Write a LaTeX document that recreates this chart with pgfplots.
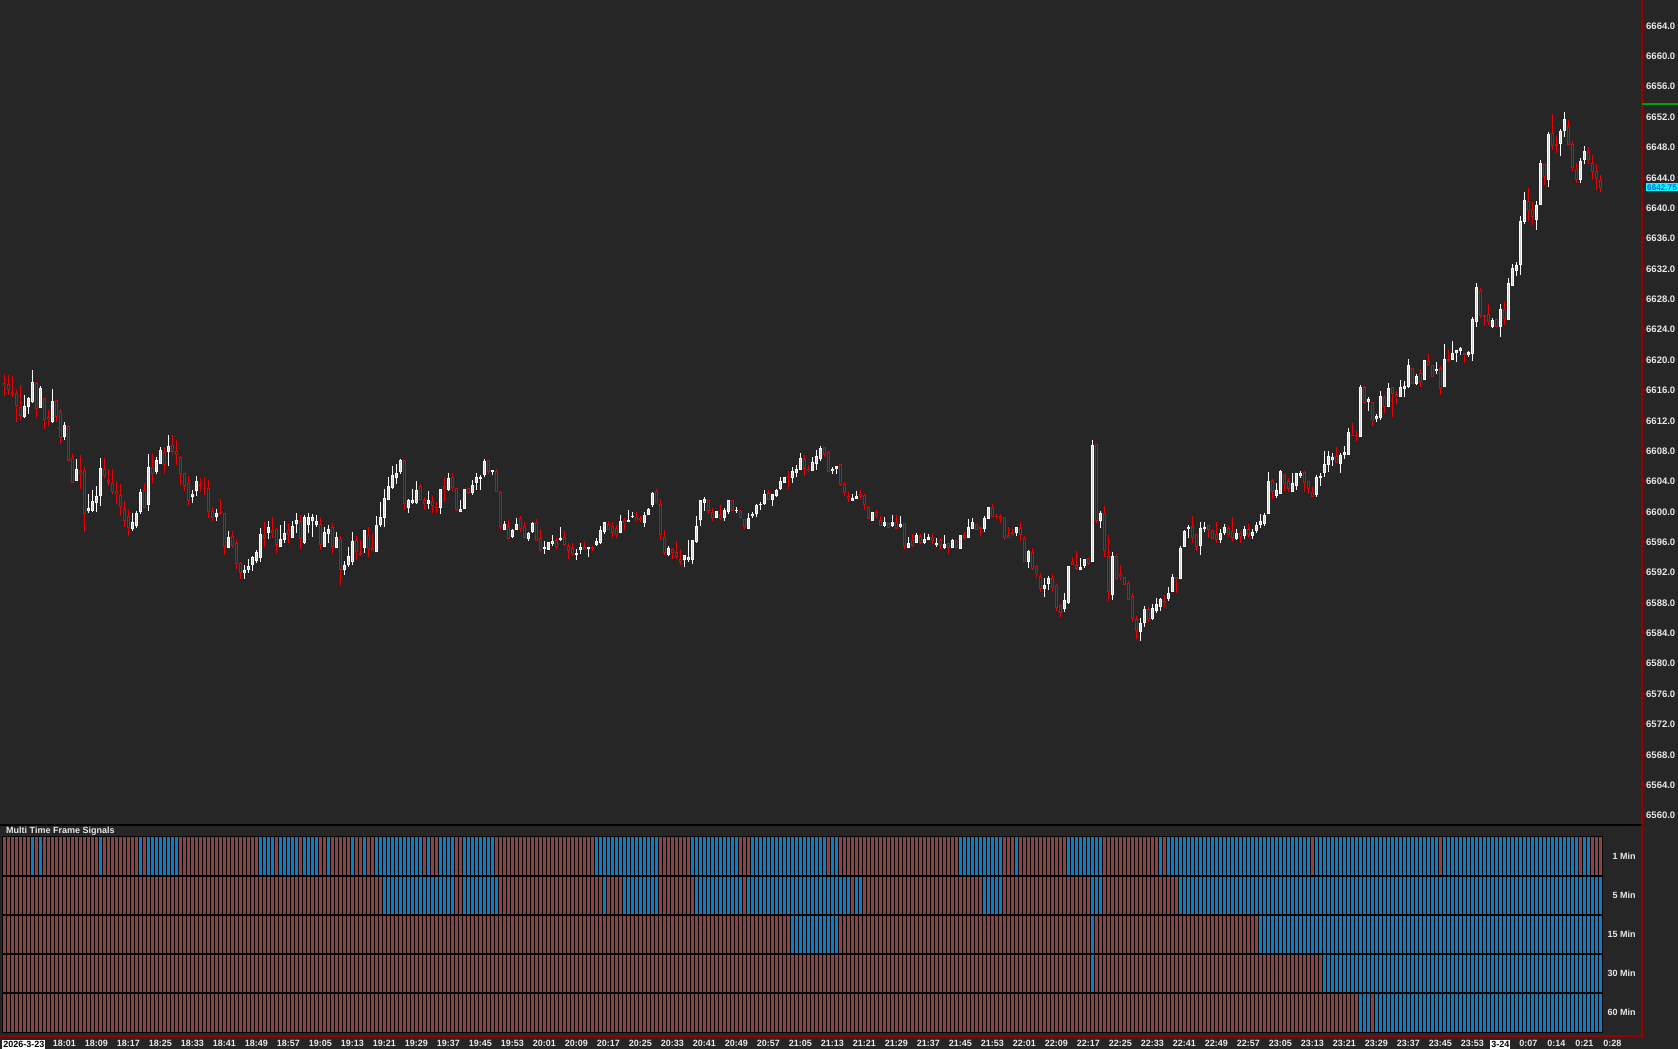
\documentclass[border=0pt]{standalone}
\usepackage{pgfplots}
\usepackage{pgfplotstable}
\usepackage{fontspec}
\setmainfont{Liberation Sans}
\pgfplotsset{compat=1.18}

\definecolor{bg}{HTML}{262626}
\definecolor{cred}{HTML}{EA0000}
\definecolor{cwhite}{HTML}{FFFFFF}
\definecolor{cfill}{HTML}{D4D4D4}
\definecolor{axisred}{HTML}{9A0000}
\definecolor{sigred}{HTML}{8C4343}
\definecolor{sigblue}{HTML}{0A7EC4}
\definecolor{lbl}{HTML}{E8E8EE}
\definecolor{pgreen}{HTML}{00A000}
\definecolor{pcyan}{HTML}{00FFFF}
\definecolor{ptext}{HTML}{1E5AE6}

\newcommand\axfont{\bfseries\fontsize{9.5}{11}\selectfont}
\newcommand\smfont{\bfseries\fontsize{9}{10}\selectfont}
\setlength{\fboxsep}{1pt}

% one-minute bars: index, open, high, low, close
\pgfplotstableread{
i o h l c
0 6617.1 6618.2 6615.2 6616.8
1 6616.8 6618.0 6615.4 6616.0
2 6615.8 6618.0 6615.2 6615.5
3 6615.8 6616.1 6611.9 6614.0
4 6613.8 6616.8 6612.2 6612.7
5 6612.5 6615.5 6612.4 6614.0
6 6613.8 6615.3 6613.1 6615.1
7 6614.5 6618.8 6614.4 6617.1
8 6617.1 6617.1 6612.4 6613.7
9 6613.7 6616.6 6613.7 6616.3
10 6615.2 6615.2 6611.1 6612.3
11 6612.6 6613.5 6611.4 6612.3
12 6611.8 6616.3 6611.8 6614.6
13 6614.8 6614.8 6611.9 6612.5
14 6613.3 6613.7 6609.1 6609.8
15 6610.0 6611.8 6609.4 6611.6
16 6611.3 6611.3 6606.8 6606.8
17 6607.1 6607.7 6603.8 6603.8
18 6604.2 6607.1 6604.1 6605.8
19 6605.5 6607.6 6603.1 6605.2
20 6605.5 6606.0 6597.4 6599.8
21 6600.2 6602.4 6599.9 6600.5
22 6600.2 6603.0 6600.1 6601.5
23 6601.2 6603.5 6600.1 6602.1
24 6602.0 6607.1 6600.8 6605.7
25 6605.7 6607.3 6604.6 6604.8
26 6604.3 6605.7 6603.5 6604.0
27 6603.8 6605.7 6602.4 6602.7
28 6602.7 6604.1 6601.1 6602.3
29 6602.3 6603.8 6599.6 6600.7
30 6600.7 6601.5 6598.0 6599.0
31 6599.5 6600.3 6596.9 6597.9
32 6597.8 6600.0 6597.6 6598.8
33 6598.2 6600.2 6597.9 6599.8
34 6600.0 6603.2 6599.9 6602.6
35 6603.0 6603.8 6600.6 6600.7
36 6601.0 6607.6 6600.1 6606.0
37 6606.0 6607.7 6603.8 6605.1
38 6605.2 6607.3 6605.1 6606.8
39 6606.4 6608.5 6606.3 6608.3
40 6608.0 6608.6 6605.1 6606.3
41 6608.0 6610.2 6606.1 6608.8
42 6608.8 6610.2 6607.7 6607.9
43 6608.0 6609.6 6606.3 6607.5
44 6607.3 6607.3 6603.5 6605.1
45 6605.2 6605.2 6602.8 6603.5
46 6603.8 6604.8 6601.0 6601.5
47 6602.0 6603.0 6601.3 6602.4
48 6602.7 6604.8 6602.1 6604.1
49 6603.8 6604.6 6602.7 6603.5
50 6603.2 6604.6 6602.2 6603.0
51 6603.2 6604.3 6599.4 6600.0
52 6600.2 6600.7 6598.8 6599.3
53 6599.3 6600.5 6598.9 6599.9
54 6600.0 6601.8 6599.7 6599.8
55 6599.8 6599.8 6594.4 6595.4
56 6595.4 6597.6 6595.4 6596.8
57 6597.0 6597.6 6595.4 6595.7
58 6596.0 6596.3 6592.5 6593.2
59 6593.2 6593.5 6591.3 6592.0
60 6592.0 6593.0 6591.2 6592.4
61 6592.4 6593.8 6592.0 6593.0
62 6593.0 6594.2 6592.3 6594.1
63 6593.6 6595.0 6593.2 6594.7
64 6594.0 6598.0 6593.5 6597.1
65 6597.1 6598.6 6595.4 6596.7
66 6597.3 6598.8 6596.4 6598.0
67 6597.8 6599.3 6596.5 6597.3
68 6597.8 6598.0 6594.6 6595.7
69 6595.4 6598.3 6595.4 6596.5
70 6596.5 6598.8 6595.9 6597.4
71 6597.6 6598.4 6595.9 6597.0
72 6596.7 6598.8 6596.7 6598.3
73 6598.5 6599.9 6597.2 6599.0
74 6598.8 6599.6 6595.1 6596.5
75 6596.0 6599.7 6595.9 6599.4
76 6598.4 6599.9 6597.2 6599.4
77 6598.9 6599.9 6596.8 6599.4
78 6598.4 6599.6 6598.1 6598.9
79 6598.5 6599.4 6595.1 6595.7
80 6595.4 6598.1 6595.4 6597.4
81 6597.2 6598.3 6596.0 6597.8
82 6598.0 6598.6 6594.6 6595.4
83 6595.4 6597.4 6595.4 6596.8
84 6596.5 6596.8 6590.2 6592.5
85 6592.5 6593.6 6591.8 6593.2
86 6593.2 6595.5 6592.9 6594.3
87 6593.5 6597.4 6593.0 6596.3
88 6596.3 6596.9 6593.7 6594.8
89 6594.6 6596.5 6594.4 6594.5
90 6595.2 6597.6 6594.7 6597.6
91 6597.1 6598.1 6594.1 6595.2
92 6595.2 6597.1 6594.8 6594.8
93 6594.8 6599.6 6594.8 6598.3
94 6598.4 6601.4 6598.1 6599.4
95 6599.2 6603.1 6598.1 6601.8
96 6601.7 6604.6 6601.6 6603.5
97 6603.2 6606.1 6603.1 6604.9
98 6604.5 6606.5 6603.9 6605.1
99 6605.2 6607.1 6605.1 6606.8
100 6606.8 6606.8 6600.3 6601.0
101 6600.5 6601.8 6599.9 6601.6
102 6601.2 6603.0 6601.1 6601.6
103 6601.2 6604.1 6601.1 6603.0
104 6603.5 6603.8 6601.6 6601.7
105 6601.6 6602.0 6600.3 6601.0
106 6601.0 6602.8 6600.4 6601.6
107 6601.6 6602.1 6599.9 6600.9
108 6600.8 6601.4 6600.0 6600.7
109 6600.5 6603.2 6599.9 6603.0
110 6603.5 6604.6 6601.3 6603.2
111 6603.0 6605.2 6602.8 6604.6
112 6604.6 6605.2 6602.8 6603.2
113 6603.2 6603.2 6600.2 6600.3
114 6600.1 6601.6 6600.0 6600.5
115 6600.5 6603.2 6600.5 6603.2
116 6603.2 6603.2 6602.4 6602.5
117 6602.5 6604.3 6602.4 6603.5
118 6603.8 6605.2 6602.9 6604.6
119 6604.4 6604.9 6602.9 6604.6
120 6604.9 6607.1 6604.7 6606.8
121 6606.8 6606.8 6605.1 6605.2
122 6605.3 6605.7 6605.0 6605.5
123 6605.5 6605.7 6602.7 6602.7
124 6602.7 6602.7 6597.7 6598.1
125 6597.8 6598.9 6597.7 6598.5
126 6598.3 6599.0 6596.5 6596.5
127 6596.7 6597.8 6596.6 6597.6
128 6597.8 6599.3 6597.6 6598.5
129 6599.3 6599.4 6597.4 6597.8
130 6598.3 6598.7 6596.6 6596.7
131 6596.5 6597.5 6596.3 6597.3
132 6597.3 6598.6 6597.2 6598.5
133 6598.8 6599.1 6596.1 6596.3
134 6596.7 6597.8 6594.8 6595.1
135 6595.1 6596.2 6594.6 6595.4
136 6595.1 6596.1 6595.0 6596.1
137 6595.9 6597.1 6595.6 6596.3
138 6596.3 6596.5 6595.1 6595.4
139 6596.3 6598.1 6596.3 6596.6
140 6596.8 6597.6 6595.6 6595.7
141 6595.5 6595.9 6593.8 6594.8
142 6595.4 6595.9 6594.2 6594.4
143 6594.5 6595.1 6593.7 6594.6
144 6595.1 6595.9 6594.5 6595.5
145 6595.5 6596.1 6595.0 6595.1
146 6595.4 6595.5 6594.1 6595.5
147 6595.5 6595.5 6594.8 6595.3
148 6595.7 6596.6 6595.6 6596.3
149 6595.9 6598.3 6595.9 6597.6
150 6597.5 6598.8 6597.2 6598.8
151 6598.5 6598.9 6597.7 6597.8
152 6598.3 6598.8 6596.6 6597.3
153 6597.9 6598.4 6596.6 6597.0
154 6597.3 6599.6 6597.2 6598.8
155 6599.0 6599.2 6597.7 6598.6
156 6598.8 6600.3 6598.7 6599.1
157 6599.4 6600.0 6599.3 6599.5
158 6599.4 6600.0 6598.9 6599.0
159 6599.3 6599.4 6598.6 6599.0
160 6598.7 6600.1 6598.1 6599.8
161 6599.8 6600.6 6599.7 6600.5
162 6601.0 6602.7 6600.7 6602.6
163 6602.8 6603.0 6601.1 6601.2
164 6601.0 6601.7 6596.4 6597.0
165 6596.8 6597.8 6594.5 6594.7
166 6594.5 6595.6 6594.3 6595.4
167 6595.1 6595.4 6593.9 6594.6
168 6594.8 6596.3 6593.9 6594.1
169 6593.9 6595.1 6593.0 6593.6
170 6593.7 6594.4 6592.8 6594.3
171 6593.7 6596.3 6593.4 6594.1
172 6593.7 6596.3 6593.2 6596.3
173 6596.1 6599.6 6596.1 6598.3
174 6599.0 6601.7 6598.3 6601.6
175 6601.3 6601.9 6600.1 6601.8
176 6601.6 6601.6 6599.9 6600.1
177 6600.1 6600.5 6598.8 6599.3
178 6599.2 6600.1 6599.2 6600.1
179 6599.8 6601.0 6599.0 6599.2
180 6599.3 6600.6 6598.9 6600.3
181 6600.0 6601.6 6599.9 6601.6
182 6601.6 6601.6 6600.1 6600.2
183 6600.1 6600.6 6599.8 6600.3
184 6600.2 6600.3 6599.2 6599.3
185 6599.1 6599.2 6597.8 6598.1
186 6597.9 6599.9 6597.9 6599.4
187 6599.5 6600.0 6599.3 6599.8
188 6599.8 6601.1 6599.4 6601.0
189 6600.9 6601.3 6600.3 6601.0
190 6601.1 6603.0 6601.0 6602.5
191 6602.6 6602.9 6601.6 6601.7
192 6601.6 6602.5 6600.9 6602.4
193 6602.2 6603.1 6602.0 6603.0
194 6603.0 6604.6 6602.9 6604.1
195 6603.8 6604.7 6603.8 6604.6
196 6604.9 6605.4 6603.1 6604.6
197 6604.5 6605.9 6603.8 6605.4
198 6605.2 6606.2 6604.7 6605.7
199 6605.6 6607.8 6605.5 6607.1
200 6607.1 6607.6 6604.9 6605.7
201 6605.7 6606.3 6605.3 6605.4
202 6605.4 6607.3 6605.4 6606.6
203 6606.3 6608.1 6605.5 6607.4
204 6607.0 6608.8 6606.8 6608.5
205 6608.5 6608.5 6607.4 6607.5
206 6608.0 6608.0 6605.2 6605.4
207 6605.4 6606.1 6605.2 6605.7
208 6605.7 6606.1 6605.2 6606.1
209 6606.3 6606.3 6603.5 6603.6
210 6603.8 6604.0 6602.1 6602.6
211 6602.3 6602.7 6601.4 6602.0
212 6601.5 6602.4 6601.5 6601.9
213 6601.7 6602.8 6601.7 6602.1
214 6602.4 6603.0 6601.9 6602.0
215 6602.3 6602.3 6600.3 6601.0
216 6600.8 6600.8 6599.0 6599.2
217 6599.0 6600.1 6599.0 6600.1
218 6600.1 6600.3 6599.3 6599.5
219 6599.0 6599.6 6598.2 6598.2
220 6598.2 6599.4 6598.1 6598.8
221 6598.6 6598.7 6598.0 6598.0
222 6598.2 6599.6 6598.1 6598.8
223 6598.8 6599.6 6597.9 6597.9
224 6598.2 6599.6 6598.0 6598.5
225 6598.5 6598.5 6595.2 6595.5
226 6595.4 6596.8 6595.4 6596.0
227 6596.3 6597.2 6595.5 6595.6
228 6596.0 6597.3 6596.0 6597.0
229 6596.9 6597.1 6595.8 6596.0
230 6596.0 6597.3 6595.8 6596.5
231 6596.4 6597.1 6596.4 6596.9
232 6596.8 6597.3 6595.9 6596.2
233 6595.7 6596.8 6595.6 6596.0
234 6596.3 6596.5 6595.1 6595.6
235 6595.3 6597.1 6595.3 6595.8
236 6596.0 6596.0 6594.6 6595.3
237 6595.3 6596.5 6595.3 6596.3
238 6596.3 6596.3 6595.3 6595.3
239 6595.3 6597.1 6595.3 6597.1
240 6597.1 6597.4 6596.3 6596.7
241 6596.7 6599.1 6596.7 6598.1
242 6597.9 6599.3 6597.9 6598.8
243 6598.5 6598.5 6597.7 6597.8
244 6598.0 6598.0 6596.9 6597.8
245 6597.9 6599.4 6597.4 6599.3
246 6599.2 6600.8 6599.2 6600.8
247 6600.8 6601.0 6599.4 6599.5
248 6599.5 6599.8 6599.1 6599.4
249 6599.6 6599.8 6598.6 6599.2
250 6599.3 6599.3 6596.4 6596.5
251 6597.1 6598.0 6596.7 6596.7
252 6597.3 6597.9 6596.9 6597.0
253 6597.2 6598.0 6596.9 6598.0
254 6598.0 6598.8 6596.3 6597.0
255 6596.6 6596.8 6593.5 6593.5
256 6593.5 6595.1 6592.7 6594.9
257 6594.9 6595.3 6592.5 6592.6
258 6592.9 6593.0 6591.3 6591.8
259 6591.6 6592.1 6589.6 6590.0
260 6590.0 6591.3 6588.8 6590.5
261 6590.5 6591.6 6589.8 6591.3
262 6591.3 6591.8 6589.4 6590.0
263 6590.5 6590.5 6587.0 6587.5
264 6587.8 6587.9 6586.3 6586.8
265 6587.2 6589.3 6586.8 6588.5
266 6588.1 6593.0 6588.0 6593.0
267 6593.5 6594.0 6593.0 6593.1
268 6593.0 6594.9 6592.5 6592.5
269 6592.5 6594.0 6592.5 6592.9
270 6592.9 6593.9 6592.7 6593.8
271 6594.0 6594.0 6593.1 6593.2
272 6593.5 6609.6 6593.5 6609.0
273 6609.0 6609.0 6598.6 6598.9
274 6598.9 6600.1 6597.9 6599.9
275 6599.8 6600.8 6594.1 6594.8
276 6594.3 6596.9 6588.3 6589.5
277 6589.2 6594.9 6588.6 6594.3
278 6594.3 6594.5 6591.1 6591.2
279 6591.8 6593.0 6591.0 6591.5
280 6591.5 6591.5 6590.5 6590.5
281 6590.7 6591.0 6588.5 6588.5
282 6589.0 6589.3 6585.5 6586.0
283 6586.0 6586.3 6583.3 6584.3
284 6584.3 6586.0 6583.0 6585.5
285 6585.5 6587.5 6584.8 6587.3
286 6587.3 6587.5 6585.5 6586.0
287 6586.0 6588.0 6585.8 6587.5
288 6587.1 6588.8 6586.8 6587.9
289 6587.5 6588.8 6587.0 6588.5
290 6588.3 6589.1 6587.5 6588.0
291 6588.5 6590.2 6588.4 6589.3
292 6589.5 6591.8 6589.4 6591.5
293 6591.5 6591.5 6589.4 6591.2
294 6591.2 6595.5 6591.2 6595.4
295 6595.4 6597.7 6595.4 6597.5
296 6597.8 6598.3 6596.6 6598.1
297 6598.3 6599.6 6596.1 6596.7
298 6597.1 6597.1 6594.9 6595.4
299 6595.6 6598.8 6594.4 6598.0
300 6597.8 6598.8 6597.4 6598.1
301 6598.3 6598.3 6596.6 6597.6
302 6597.6 6597.6 6596.4 6596.4
303 6597.1 6598.8 6596.0 6596.4
304 6596.4 6597.8 6596.0 6597.3
305 6597.3 6598.5 6597.0 6598.0
306 6598.0 6598.3 6596.8 6597.0
307 6597.5 6599.4 6596.2 6596.5
308 6596.5 6597.8 6596.3 6597.3
309 6597.3 6597.6 6596.0 6596.8
310 6596.8 6598.2 6596.5 6597.8
311 6597.8 6598.5 6596.8 6597.0
312 6597.0 6597.8 6596.5 6597.5
313 6597.5 6598.6 6597.2 6598.3
314 6598.3 6599.8 6598.0 6598.8
315 6598.5 6599.8 6598.2 6599.6
316 6599.8 6605.3 6599.7 6604.1
317 6604.3 6604.3 6601.6 6602.6
318 6602.2 6603.8 6601.9 6603.0
319 6602.5 6605.5 6602.4 6605.5
320 6605.1 6605.1 6602.8 6603.8
321 6604.1 6604.6 6602.7 6603.0
322 6602.7 6605.2 6602.7 6603.8
323 6603.5 6605.2 6603.0 6605.2
324 6604.8 6605.5 6604.6 6605.2
325 6605.2 6605.5 6602.7 6603.8
326 6604.1 6604.1 6602.4 6603.0
327 6602.7 6603.3 6602.0 6602.0
328 6602.2 6604.9 6602.1 6604.6
329 6604.6 6605.2 6603.5 6604.9
330 6605.1 6608.0 6604.6 6606.3
331 6606.2 6608.0 6605.3 6607.4
332 6607.0 6607.9 6606.1 6607.4
333 6607.4 6608.6 6606.5 6606.5
334 6606.3 6607.8 6605.2 6607.6
335 6607.6 6608.8 6607.1 6608.0
336 6607.6 6611.1 6607.6 6610.6
337 6610.2 6611.8 6610.1 6610.1
338 6610.2 6610.8 6609.4 6610.1
339 6610.0 6616.8 6609.9 6616.6
340 6616.6 6616.6 6614.3 6614.4
341 6614.5 6615.2 6613.3 6614.9
342 6614.6 6614.6 6611.4 6612.0
343 6612.3 6613.0 6611.9 6612.7
344 6612.3 6616.1 6612.3 6615.3
345 6615.2 6615.5 6613.1 6613.9
346 6613.9 6617.1 6613.9 6616.4
347 6616.6 6616.6 6612.7 6615.7
348 6615.5 6616.1 6614.4 6615.1
349 6615.2 6617.4 6615.2 6616.6
350 6616.2 6617.4 6615.3 6616.6
351 6616.5 6620.2 6616.4 6619.3
352 6619.0 6619.0 6616.8 6616.9
353 6617.0 6618.3 6616.8 6618.0
354 6618.3 6618.8 6616.4 6617.0
355 6617.5 6620.1 6617.4 6620.1
356 6619.9 6620.8 6619.3 6619.3
357 6619.3 6619.3 6617.7 6617.7
358 6618.5 6619.9 6618.3 6618.8
359 6619.0 6619.3 6615.5 6616.2
360 6616.5 6622.1 6616.5 6620.2
361 6620.2 6621.3 6619.7 6620.0
362 6620.1 6622.6 6620.1 6621.0
363 6621.0 6621.3 6619.9 6621.3
364 6621.2 6621.8 6620.8 6621.6
365 6621.0 6621.0 6619.7 6620.8
366 6620.7 6621.3 6620.5 6621.1
367 6620.8 6625.7 6619.9 6625.5
368 6625.2 6630.2 6624.4 6629.7
369 6629.4 6629.6 6625.6 6625.9
370 6626.0 6626.0 6624.6 6625.9
371 6626.1 6627.4 6624.6 6625.1
372 6624.5 6625.7 6624.4 6625.3
373 6625.5 6625.5 6624.4 6624.5
374 6624.5 6627.4 6623.1 6626.8
375 6626.8 6627.7 6624.6 6625.5
376 6625.2 6630.8 6625.2 6630.2
377 6629.8 6632.8 6629.8 6632.1
378 6631.8 6633.0 6631.1 6632.6
379 6632.6 6639.1 6631.3 6638.3
380 6638.2 6642.2 6638.0 6641.1
381 6641.1 6642.7 6638.4 6639.8
382 6639.8 6640.9 6637.8 6638.8
383 6638.5 6640.9 6637.1 6640.5
384 6640.5 6646.3 6640.5 6646.0
385 6645.8 6645.8 6643.1 6644.1
386 6643.8 6650.1 6642.8 6649.9
387 6649.9 6652.4 6647.6 6648.2
388 6648.4 6649.6 6647.4 6648.2
389 6648.5 6650.5 6646.9 6650.3
390 6650.2 6652.8 6649.4 6651.8
391 6651.0 6651.6 6648.3 6648.5
392 6648.5 6649.0 6645.0 6645.3
393 6645.3 6646.0 6643.3 6643.8
394 6643.8 6646.8 6643.5 6646.3
395 6646.3 6648.3 6646.0 6647.5
396 6647.5 6648.0 6645.8 6646.5
397 6646.0 6647.1 6643.8 6644.8
398 6645.0 6645.9 6642.5 6644.0
399 6643.8 6644.4 6642.2 6642.75
}\candles

% blue signal block: row bottom, row top, first bar edge, last bar edge
\newcommand{\sig}[4]{\addplot[fill=sigblue, draw=none] coordinates {(#3,#1) (#4,#1) (#4,#2) (#3,#2)} -- cycle;}

% error bars only: no line, no marker
\pgfplotsset{
  ebar/.style 2 args={draw=none, mark=none,
    /pgfplots/error bars/y dir=both, /pgfplots/error bars/y explicit,
    /pgfplots/error bars/error mark=none,
    /pgfplots/error bars/error bar style={draw=#1, line width=#2}},
}

\begin{document}
\begin{tikzpicture}
\fill[bg] (0,0) rectangle (1678pt,1049pt);

%---------------- price panel
\begin{axis}[
  at={(0pt,224pt)}, anchor=south west, scale only axis,
  width=1642pt, height=825pt,
  xmin=-1.075, xmax=409.425, ymin=6558.76, ymax=6667.41,
  axis x line=none, axis y line*=right,
  y axis line style={draw=axisred, line width=2pt},
  ytick distance=4,
  tick align=outside, major tick length=4pt,
  ytick style={draw=axisred, line width=2pt},
  yticklabel style={text=lbl, font=\axfont, anchor=west, inner sep=0pt,
    /pgf/number format/.cd, fixed, fixed zerofill, precision=1, 1000 sep={}, assume math mode=true},
  clip=false,
]
% wicks
\addplot[restrict expr to domain={\thisrow{c}-\thisrow{o}}{0:1000}, ebar={cwhite}{1pt}]
  table[x=i, y expr={(\thisrow{h}+\thisrow{l})/2}, y error expr={(\thisrow{h}-\thisrow{l})/2}] {\candles};
\addplot[restrict expr to domain={\thisrow{o}-\thisrow{c}}{0.01:1000}, ebar={cred}{1pt}]
  table[x=i, y expr={(\thisrow{h}+\thisrow{l})/2}, y error expr={(\thisrow{h}-\thisrow{l})/2}] {\candles};
% bodies, up
\addplot[restrict expr to domain={\thisrow{c}-\thisrow{o}}{0:1000}, ebar={cwhite}{3pt}]
  table[x=i, y expr={(\thisrow{o}+\thisrow{c})/2}, y error expr={max(abs(\thisrow{c}-\thisrow{o})/2,0.07)}] {\candles};
\addplot[restrict expr to domain={\thisrow{c}-\thisrow{o}}{0.3:1000}, ebar={cfill}{1pt}]
  table[x=i, y expr={(\thisrow{o}+\thisrow{c})/2}, y error expr={abs(\thisrow{c}-\thisrow{o})/2-0.13}] {\candles};
% bodies, down (hollow)
\addplot[restrict expr to domain={\thisrow{o}-\thisrow{c}}{0.01:1000}, ebar={cred}{3pt}]
  table[x=i, y expr={(\thisrow{o}+\thisrow{c})/2}, y error expr={max(abs(\thisrow{c}-\thisrow{o})/2,0.07)}] {\candles};
\addplot[restrict expr to domain={\thisrow{o}-\thisrow{c}}{0.3:1000}, ebar={bg}{1pt}]
  table[x=i, y expr={(\thisrow{o}+\thisrow{c})/2}, y error expr={abs(\thisrow{c}-\thisrow{o})/2-0.13}] {\candles};

\addplot[pgreen, line width=1.5pt] coordinates {(409.425,6653.7) (419,6653.7)};
\node[fill=pcyan, text=ptext, font=\bfseries\fontsize{8.2}{10}\selectfont, inner sep=1pt, anchor=west, xshift=4pt]
  at (axis cs:409.425,6642.75) {6642.75};
\end{axis}

\draw[black, line width=2pt] (0,224pt) -- (1642pt,224pt);
\draw[axisred, line width=2pt] (1642pt,224pt) -- (1642pt,12pt);

%---------------- signals panel
\begin{axis}[
  at={(2.3pt,17pt)}, anchor=south west, scale only axis,
  width=1600pt, height=195pt,
  xmin=0, xmax=400, ymin=0, ymax=5,
  axis background/.style={fill=sigred},
  axis on top,
  axis line style={draw=black, line width=1pt},
  xtick={0,400}, xticklabels={}, minor xtick={1,2,...,399},
  ytick={1,2,3,4}, yticklabels={},
  xminorgrids=true, ymajorgrids=true, xmajorgrids=false,
  minor grid style={draw=black, line width=1pt},
  major grid style={draw=black, line width=1.3pt},
  major tick length=0pt, minor tick length=0pt,
  clip=false,
]
% 1 Min
\sig{4}{5}{7}{8} \sig{4}{5}{9}{10} \sig{4}{5}{24}{25} \sig{4}{5}{34}{35}
\sig{4}{5}{36}{44} \sig{4}{5}{64}{68} \sig{4}{5}{69}{74} \sig{4}{5}{75}{79}
\sig{4}{5}{81}{82} \sig{4}{5}{87}{88} \sig{4}{5}{90}{91} \sig{4}{5}{93}{105}
\sig{4}{5}{106}{107} \sig{4}{5}{109}{113} \sig{4}{5}{115}{123} \sig{4}{5}{148}{164}
\sig{4}{5}{172}{184} \sig{4}{5}{187}{206} \sig{4}{5}{207}{209} \sig{4}{5}{239}{250}
\sig{4}{5}{253}{254} \sig{4}{5}{266}{275} \sig{4}{5}{289}{290} \sig{4}{5}{291}{327}
\sig{4}{5}{328}{359} \sig{4}{5}{360}{394} \sig{4}{5}{395}{397}
% 5 Min
\sig{3}{4}{95}{113} \sig{3}{4}{115}{124} \sig{3}{4}{150}{151} \sig{3}{4}{155}{164}
\sig{3}{4}{173}{185} \sig{3}{4}{186}{212} \sig{3}{4}{213}{215} \sig{3}{4}{245}{250}
\sig{3}{4}{272}{275} \sig{3}{4}{294}{400}
% 15 Min
\sig{2}{3}{197}{209} \sig{2}{3}{272}{273} \sig{2}{3}{314}{400}
% 30 Min
\sig{1}{2}{272}{273} \sig{1}{2}{330}{400}
% 60 Min
\sig{0}{1}{339}{342} \sig{0}{1}{343}{400}

\node[anchor=west, text=lbl, font=\smfont] at (axis cs:0.1,5.16) {Multi Time Frame Signals};
\node[anchor=east, text=lbl, font=\smfont] at (axis cs:409.2,4.5) {1 Min};
\node[anchor=east, text=lbl, font=\smfont] at (axis cs:409.2,3.5) {5 Min};
\node[anchor=east, text=lbl, font=\smfont] at (axis cs:409.2,2.5) {15 Min};
\node[anchor=east, text=lbl, font=\smfont] at (axis cs:409.2,1.5) {30 Min};
\node[anchor=east, text=lbl, font=\smfont] at (axis cs:409.2,0.5) {60 Min};
\end{axis}

%---------------- time axis
\begin{axis}[
  at={(0pt,13pt)}, anchor=south west, scale only axis,
  width=1643pt, height=10pt,
  xmin=-1.075, xmax=409.675, ymin=0, ymax=1,
  axis x line*=bottom, axis y line=none,
  x axis line style={draw=axisred, line width=2pt},
  xtick={4.9,15,23,31,39,47,55,63,71,79,87,95,103,111,119,127,135,143,151,159,167,175,183,191,199,207,215,223,231,239,247,255,263,271,279,287,295,303,311,319,327,335,343,351,359,367,374,381,388,395,402},
  xticklabels={{\colorbox{white}{\color{black}2026-3-23}},18:01,18:09,18:17,18:25,18:33,18:41,18:49,18:57,19:05,19:13,19:21,19:29,19:37,19:45,19:53,20:01,20:09,20:17,20:25,20:33,20:41,20:49,20:57,21:05,21:13,21:21,21:29,21:37,21:45,21:53,22:01,22:09,22:17,22:25,22:33,22:41,22:49,22:57,23:05,23:13,23:21,23:29,23:37,23:45,23:53,{\colorbox{white}{\color{black}3-24}},0:07,0:14,0:21,0:28},
  major tick length=0pt,
  xticklabel style={text=lbl, font=\smfont, anchor=north, inner sep=0pt, yshift=-4pt},
]
\end{axis}

\pgfresetboundingbox
\path (0,0) rectangle (1678pt,1049pt);
\end{tikzpicture}
\end{document}
